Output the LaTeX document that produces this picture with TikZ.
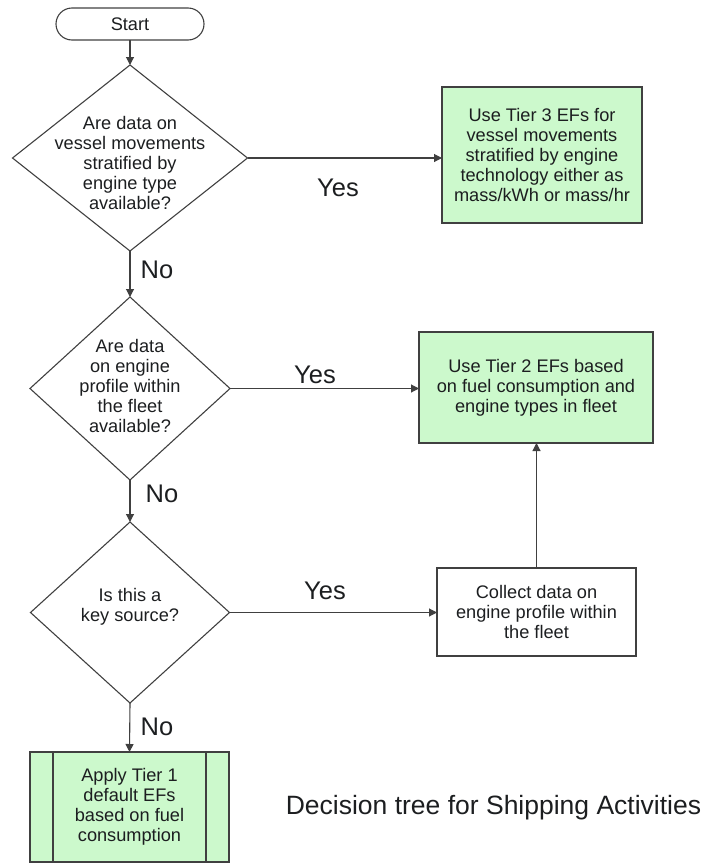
\documentclass[tikz,border=0pt]{standalone}
\usepackage{fontspec}
\setmainfont{Liberation Sans}
\usetikzlibrary{shapes.geometric,arrows.meta}
\definecolor{boxgreen}{RGB}{204,249,204}
\definecolor{linegray}{RGB}{64,64,64}
\definecolor{txt}{RGB}{28,30,32}
\begin{document}
\begin{tikzpicture}[x=1pt,y=-1pt,
  every node/.style={text=txt, align=center, inner sep=0pt, outer sep=0pt},
  bodytext/.style={font=\fontsize{18.2}{20}\selectfont},
  biglabel/.style={font=\fontsize{25.5}{28}\selectfont},
  dia/.style={draw=linegray, line width=1.1pt, diamond, inner sep=0pt},
  term/.style={draw=linegray, line width=1.1pt, rectangle, rounded corners=16pt,
     minimum width=148pt, minimum height=32pt, bodytext},
  greenbox/.style={draw=linegray, line width=1.4pt, fill=boxgreen, rectangle, bodytext},
  plainbox/.style={draw=linegray, line width=1.2pt, rectangle, bodytext},
  arr/.style={draw=linegray, line width=1.1pt, -{Triangle[length=8pt,width=8pt]}}
]
\useasboundingbox (0,0) rectangle (711,865);

% nodes
\node[term] (start) at (130,24) {Start};

\node[dia, minimum width=235pt, minimum height=186pt] (q1) at (130,158) {};
\node[bodytext] (q1t) at (130,163) {Are data on\\vessel movements\\stratified by\\engine type\\available?};

\node[greenbox, minimum width=200pt, minimum height=136pt] (tier3) at (542,155)
  {Use Tier 3 EFs for\\vessel movements\\stratified by engine\\technology either as\\mass/kWh or mass/hr};

\node[dia, minimum width=200pt, minimum height=183pt] (q2) at (130,388.5) {};
\node[bodytext] (q2t) at (130,386) {Are data\\on engine\\profile within\\the fleet\\available?};

\node[greenbox, minimum width=234pt, minimum height=111pt] (tier2) at (536,387.5)
  {Use Tier 2 EFs based\\on fuel consumption and\\engine types in fleet};

\node[dia, minimum width=199pt, minimum height=181pt] (q3) at (130,612.5) {};
\node[bodytext] (q3t) at (130,607) {Is this a\\key source?};

\node[plainbox, minimum width=199pt, minimum height=88pt] (collect) at (536.5,612)
  {Collect data on\\engine profile within\\the fleet};

\node[greenbox, minimum width=199pt, minimum height=110pt] (tier1) at (129.5,807)
  {Apply Tier 1\\default EFs\\based on fuel\\consumption};
\draw[linegray, line width=1.2pt] ([xshift=23pt]tier1.north west) -- ([xshift=23pt]tier1.south west);
\draw[linegray, line width=1.2pt] ([xshift=-23pt]tier1.north east) -- ([xshift=-23pt]tier1.south east);

% connectors
\draw[arr] (start.south) -- (q1.north);
\draw[arr] (q1.east) -- (q1.east -| tier3.west);
\draw[arr] (q1.south) -- (q2.north);
\draw[arr] (q2.east) -- (q2.east -| tier2.west);
\draw[arr] (q2.south) -- (q3.north);
\draw[arr] (q3.east) -- (q3.east -| collect.west);
\draw[arr] (collect.north) -- (collect.north |- tier2.south);
\draw[arr] (q3.south) -- (tier1.north);

% labels
\node[biglabel] (yes1) at (338,188) {Yes};
\node[biglabel] (no1) at (157,270) {No};
\node[biglabel] (yes2) at (315,375) {Yes};
\node[biglabel] (no2) at (162,494) {No};
\node[biglabel] (yes3) at (325,591) {Yes};
\node[biglabel] (no3) at (157,727) {No};

\node[font=\fontsize{26.5}{30}\selectfont] (caption) at (493.5,808) {Decision tree for Shipping Activities};
\end{tikzpicture}
\end{document}
